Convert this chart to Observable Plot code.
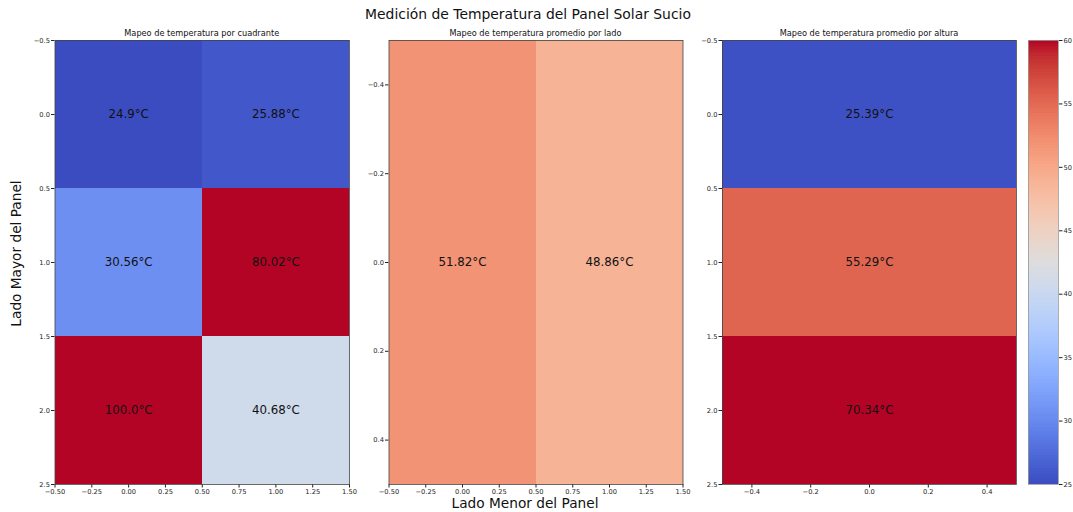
<!DOCTYPE html>
<html><head><meta charset="utf-8">
<script src="https://cdn.jsdelivr.net/npm/d3@7"></script>
<script src="https://cdn.jsdelivr.net/npm/@observablehq/plot@0.6"></script>
<style>
body{margin:0;background:#fff;}
#fig{position:relative;width:1073px;height:512px;overflow:hidden;background:#fff;font-family:"DejaVu Sans",sans-serif;}
#fig > svg{position:absolute;top:0;}
</style></head><body><div id="fig"></div>
<script>
// ---- data ----
const quadrantValues = [[24.9, 25.88], [30.56, 80.02], [100.0, 40.68]]; // rows x cols
const sideValues = [51.82, 48.86];            // one row, two cols
const heightValues = [25.39, 55.29, 70.34];   // three rows, one col
const xTicksQuad = [-0.5, -0.25, 0, 0.25, 0.5, 0.75, 1, 1.25, 1.5];
const yTicksQuad = [-0.5, 0, 0.5, 1, 1.5, 2, 2.5];
const ticksSmall = [-0.4, -0.2, 0, 0.2, 0.4];
const colorbarTicks = [25, 30, 35, 40, 45, 50, 55, 60];
const colorDomain = [25, 60];
const titles = {
  main: "Medición de Temperatura del Panel Solar Sucio",
  quad: "Mapeo de temperatura por cuadrante",
  side: "Mapeo de temperatura promedio por lado",
  height: "Mapeo de temperatura promedio por altura",
  xlabel: "Lado Menor del Panel",
  ylabel: "Lado Mayor del Panel"
};
// matplotlib coolwarm
const coolwarm = ["#3b4cc0","#445acc","#4d68d7","#5775e1","#6282ea","#6c8ef1","#779af7","#82a5fb","#8db0fe","#98b9ff","#a3c2ff","#aec9fd","#b8d0f9","#c2d5f4","#ccd9ee","#d5dbe6","#dddddd","#e5d8d1","#ecd3c5","#f1ccb9","#f5c4ad","#f7bba0","#f7b194","#f7a687","#f49a7b","#f18d6f","#ec7f63","#e57058","#de604d","#d55042","#cb3e38","#c0282f","#b40426"];

const colorOpts = {type: "linear", domain: colorDomain, interpolate: d3.piecewise(d3.interpolateRgb, coolwarm), clamp: true};
const fmtVal = v => (Number.isInteger(v) ? v.toFixed(1) : String(v)) + "°C";
const fig = document.getElementById("fig");
const FONT = "DejaVu Sans";
const TICK_FONT = "6.7px";

function table(matrix) {
  const out = [];
  matrix.forEach((row, r) => row.forEach((v, c) => out.push({row: r, col: c, value: v})));
  return out;
}

function heat({data, xDomain, yDomain, xTicks, yTicks, xFmt, yFmt, left, width, frameL, frameR}) {
  const p = Plot.plot({
    width, height: 512,
    marginLeft: frameL - left, marginRight: left + width - frameR,
    marginTop: 40, marginBottom: 28,
    style: {background: "transparent", fontFamily: FONT, fontSize: TICK_FONT, color: "#222", overflow: "visible"},
    x: {domain: xDomain, ticks: xTicks, tickFormat: xFmt, tickSize: 3.5, tickPadding: 1.5, label: null},
    y: {domain: yDomain, reverse: true, ticks: yTicks, tickFormat: yFmt, tickSize: 3.5, tickPadding: 1.5, label: null},
    color: colorOpts,
    marks: [
      Plot.rect(data, {x1: d => d.col - 0.5, x2: d => d.col + 0.5, y1: d => d.row - 0.5, y2: d => d.row + 0.5, fill: "value", shapeRendering: "crispEdges"}),
      Plot.text(data, {x: "col", y: "row", text: d => fmtVal(d.value), fontSize: 11.8, fill: "#111"}),
      Plot.frame({stroke: "#444", strokeWidth: 0.8})
    ]
  });
  p.style.left = left + "px";
  fig.appendChild(p);
}

heat({data: table(quadrantValues), xDomain: [-0.5, 1.5], yDomain: [-0.5, 2.5], xTicks: xTicksQuad, yTicks: yTicksQuad,
  xFmt: d3.format(".2f"), yFmt: d3.format(".1f"), left: 0, width: 360, frameL: 54.5, frameR: 349});
heat({data: table([sideValues]), xDomain: [-0.5, 1.5], yDomain: [-0.5, 0.5], xTicks: xTicksQuad, yTicks: ticksSmall,
  xFmt: d3.format(".2f"), yFmt: d3.format(".1f"), left: 360, width: 340, frameL: 388.5, frameR: 682.5});
heat({data: table(heightValues.map(v => [v])), xDomain: [-0.5, 0.5], yDomain: [-0.5, 2.5], xTicks: ticksSmall, yTicks: yTicksQuad,
  xFmt: d3.format(".1f"), yFmt: d3.format(".1f"), left: 700, width: 326, frameL: 722, frameR: 1016});

// colorbar
const step = 0.25;
const cbSteps = d3.range(colorDomain[0], colorDomain[1], step).map(lo => ({lo, hi: Math.min(colorDomain[1], lo + step * 1.6), mid: lo + step / 2}));
const cb = Plot.plot({
  width: 53, height: 512, marginLeft: 8, marginRight: 15, marginTop: 40, marginBottom: 28,
  style: {background: "transparent", fontFamily: FONT, fontSize: TICK_FONT, color: "#222", overflow: "visible"},
  x: {domain: [0, 1], axis: null},
  y: {domain: colorDomain, ticks: colorbarTicks, tickFormat: d3.format("d"), axis: "right", tickSize: 3.5, tickPadding: 1.5, label: null},
  color: colorOpts,
  marks: [
    Plot.rect(cbSteps, {x1: 0, x2: 1, y1: "lo", y2: "hi", fill: "mid"}),
    Plot.frame({stroke: "#999", strokeWidth: 0.8})
  ]
});
cb.style.left = "1020px";
fig.appendChild(cb);

// text overlay
const ns = "http://www.w3.org/2000/svg";
const ov = document.createElementNS(ns, "svg");
ov.setAttribute("width", 1073); ov.setAttribute("height", 512);
ov.style.left = "0px"; ov.style.pointerEvents = "none";
function addText(str, x, y, size, extra = {}) {
  const t = document.createElementNS(ns, "text");
  t.textContent = str;
  t.setAttribute("x", x); t.setAttribute("y", y);
  t.setAttribute("text-anchor", "middle");
  t.setAttribute("font-family", FONT);
  t.setAttribute("font-size", size);
  t.setAttribute("fill", "#111");
  for (const k in extra) t.setAttribute(k, extra[k]);
  ov.appendChild(t);
}
addText(titles.main, 528, 19, 13.9);
addText(titles.quad, 201.75, 36, 8.2);
addText(titles.side, 535.5, 36, 8.2);
addText(titles.height, 869, 36, 8.2);
addText(titles.xlabel, 525, 508, 13.7);
addText(titles.ylabel, 0, 0, 13.7, {transform: "translate(20.7,253.5) rotate(-90)"});
fig.appendChild(ov);
</script></body></html>
